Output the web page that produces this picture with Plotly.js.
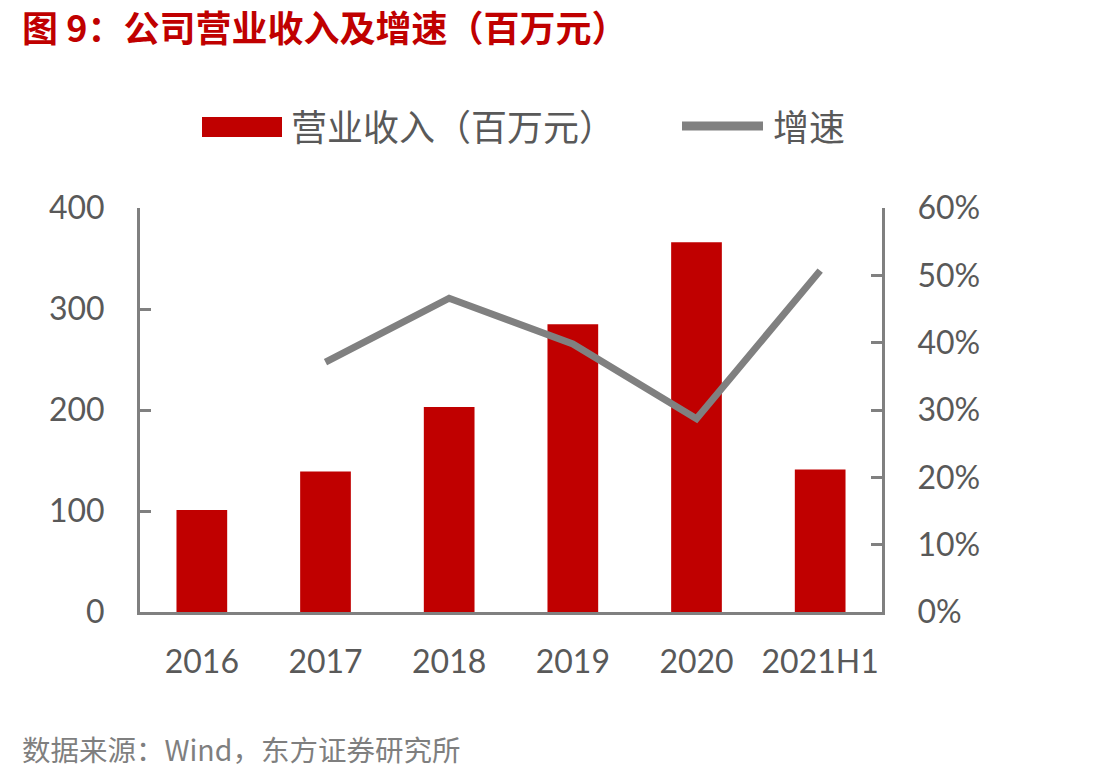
<!DOCTYPE html>
<html>
<head>
<meta charset="utf-8">
<script src="https://cdn.plot.ly/plotly-3.0.1.min.js"></script>
<style>
  html, body { margin: 0; padding: 0; background: #fff; }
  #chart { width: 1112px; height: 778px; }
</style>
</head>
<body>
<div id="chart"></div>
<script>
// Revenue (million yuan) and year-on-year growth
const years = ['2016', '2017', '2018', '2019', '2020', '2021H1'];
const revenue = [101, 139, 203, 285, 366, 141];
const growth = [null, 0.371, 0.466, 0.398, 0.287, 0.507];

const revenueName = '营业收入（百万元）';
const growthName = '增速';
const titleText = '图 9：公司营业收入及增速（百万元）';
const sourceText = '数据来源：Wind，东方证券研究所';

const RED = '#c00000';
const GREY_LINE = '#808080';
const AXIS = '#808080';
const LABEL = '#595959';
const CJK = '"Noto Sans CJK SC", "Noto Sans", sans-serif';
const NUM = 'Lato, "Noto Sans", sans-serif';

// plot-area geometry in pixels, used to place the hand-drawn legend and notes
const L = 140, R = 882, T = 208, B = 612;
const px = x => (x - L) / (R - L);
const py = y => (B - y) / (B - T);

const traces = [
  {
    type: 'bar',
    name: revenueName,
    x: years,
    y: revenue,
    marker: { color: RED },
    yaxis: 'y',
    hoverinfo: 'x+y'
  },
  {
    type: 'scatter',
    mode: 'lines',
    name: growthName,
    x: years,
    y: growth,
    yaxis: 'y2',
    line: { color: GREY_LINE, width: 7 },
    connectgaps: false
  }
];

const layout = {
  width: 1112,
  height: 778,
  margin: { l: L, r: 1112 - R, t: T, b: 778 - B },
  paper_bgcolor: '#ffffff',
  plot_bgcolor: '#ffffff',
  showlegend: false,
  bargap: 0.59,
  xaxis: {
    type: 'category',
    showline: true,
    linecolor: AXIS,
    linewidth: 3,
    ticks: '',
    showgrid: false,
    zeroline: false,
    tickfont: { family: NUM, size: 32, color: LABEL },
    ticklabelstandoff: 20
  },
  yaxis: {
    range: [0, 400],
    tickvals: [0, 100, 200, 300, 400],
    showline: true,
    linecolor: AXIS,
    linewidth: 3,
    ticks: 'inside',
    ticklen: 11,
    tickwidth: 3,
    tickcolor: AXIS,
    showgrid: false,
    zeroline: false,
    tickfont: { family: NUM, size: 32, color: LABEL },
    ticklabelstandoff: 26
  },
  yaxis2: {
    overlaying: 'y',
    side: 'right',
    range: [0, 0.6],
    tickvals: [0, 0.1, 0.2, 0.3, 0.4, 0.5, 0.6],
    tickformat: '.0%',
    showline: true,
    linecolor: AXIS,
    linewidth: 3,
    ticks: 'inside',
    ticklen: 11,
    tickwidth: 3,
    tickcolor: AXIS,
    showgrid: false,
    zeroline: false,
    tickfont: { family: NUM, size: 32, color: LABEL },
    ticklabelstandoff: 26
  },
  shapes: [
    // legend swatches
    { type: 'rect', xref: 'paper', yref: 'paper',
      x0: px(202), x1: px(282), y0: py(137), y1: py(117),
      fillcolor: RED, line: { width: 0 } },
    { type: 'line', xref: 'paper', yref: 'paper',
      x0: px(682), x1: px(763), y0: py(126), y1: py(126),
      line: { color: GREY_LINE, width: 9 } }
  ],
  annotations: [
    { xref: 'paper', yref: 'paper', x: px(20), y: py(26),
      xanchor: 'left', yanchor: 'middle', showarrow: false,
      text: '<b>' + titleText + '</b>',
      font: { family: CJK, size: 36, color: RED } },
    { xref: 'paper', yref: 'paper', x: px(289), y: py(125),
      xanchor: 'left', yanchor: 'middle', showarrow: false,
      text: revenueName,
      font: { family: CJK, size: 36, color: LABEL } },
    { xref: 'paper', yref: 'paper', x: px(771), y: py(125),
      xanchor: 'left', yanchor: 'middle', showarrow: false,
      text: growthName,
      font: { family: CJK, size: 36, color: LABEL } },
    { xref: 'paper', yref: 'paper', x: px(20), y: py(748),
      xanchor: 'left', yanchor: 'middle', showarrow: false,
      text: sourceText,
      font: { family: CJK, size: 28.5, color: '#7f7f7f' } }
  ]
};

Plotly.newPlot('chart', traces, layout, { displayModeBar: false, staticPlot: true });
</script>
</body>
</html>
